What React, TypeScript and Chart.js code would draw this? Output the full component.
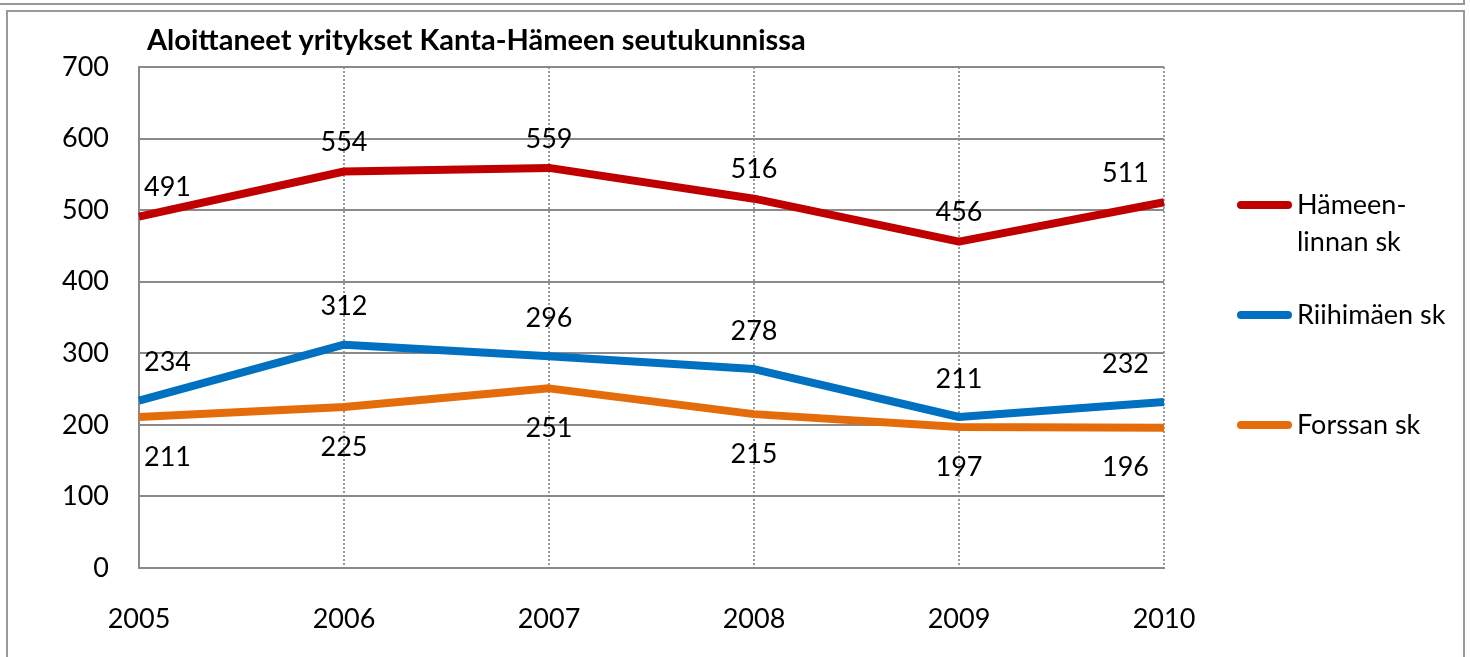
import React, { useEffect, useRef } from "react";
import { Chart, registerables } from "chart.js";

Chart.register(...registerables);

// ---- data ----
const years = ["2005", "2006", "2007", "2008", "2009", "2010"];
const hameenlinna = [491, 554, 559, 516, 456, 511];
const riihimaki = [234, 312, 296, 278, 211, 232];
const forssa = [211, 225, 251, 215, 197, 196];
const seriesNames = ["Hämeenlinnan sk", "Riihimäen sk", "Forssan sk"];
const legendTexts = [["Hämeen-", "linnan sk"], ["Riihimäen sk"], ["Forssan sk"]];
const yMin = 0;
const yMax = 700;
const yStep = 100;
const chartTitle = "Aloittaneet yritykset Kanta-Hämeen seutukunnissa";

// ---- styles ----
const FONT_FAMILY = "Lato, 'Noto Sans', sans-serif";
const FONT_SIZE = 27;
const COLORS = ["#C00000", "#0070C0", "#E46C0A"];
const LABEL_OFFSETS = [-29, -38, 40]; // vertical offset of value labels per series
const LEGEND_ROWS = [138, 248, 358]; // legend marker y relative to chart area top

const labelPlugin = {
  id: "valueLabels",
  afterDatasetsDraw(chart: any) {
    const ctx = chart.ctx;
    const { left, right } = chart.chartArea;
    ctx.save();
    ctx.font = `${FONT_SIZE}px ${FONT_FAMILY}`;
    ctx.fillStyle = "#000";
    ctx.textAlign = "center";
    ctx.textBaseline = "middle";
    chart.data.datasets.forEach((ds: any, i: number) => {
      const meta = chart.getDatasetMeta(i);
      meta.data.forEach((pt: any, j: number) => {
        const text = String(ds.data[j]);
        const w = ctx.measureText(text).width;
        let x = pt.x;
        x = Math.max(left + w / 2 + 5, Math.min(right - w / 2 - 15, x));
        ctx.fillText(text, x, pt.y + LABEL_OFFSETS[i]);
      });
    });
    ctx.restore();
  },
};

const decorPlugin = {
  id: "decor",
  afterDraw(chart: any) {
    const ctx = chart.ctx;
    const { right, top, left } = chart.chartArea;
    ctx.save();
    // title
    ctx.font = `bold 29px ${FONT_FAMILY}`;
    ctx.fillStyle = "#000";
    ctx.textAlign = "left";
    ctx.textBaseline = "alphabetic";
    ctx.fillText(chartTitle, left + 8, top - 17);
    // legend
    const lx = right + 73;
    ctx.font = `${FONT_SIZE}px ${FONT_FAMILY}`;
    ctx.textBaseline = "middle";
    chart.data.datasets.forEach((ds: any, i: number) => {
      const y = top + LEGEND_ROWS[i];
      ctx.strokeStyle = ds.borderColor;
      ctx.lineWidth = 8;
      ctx.lineCap = "round";
      ctx.beginPath();
      ctx.moveTo(lx + 4, y);
      ctx.lineTo(lx + 51, y);
      ctx.stroke();
      const lines = legendTexts[i];
      lines.forEach((t: string, k: number) => {
        ctx.fillText(t, lx + 60, y + k * 37);
      });
    });
    ctx.restore();
  },
};

export default function App() {
  const ref = useRef<HTMLCanvasElement | null>(null);

  useEffect(() => {
    if (!ref.current) return;
    const font = { family: FONT_FAMILY, size: FONT_SIZE };
    const chart = new Chart(ref.current, {
      type: "line",
      data: {
        labels: years,
        datasets: [hameenlinna, riihimaki, forssa].map((d, i) => ({
          label: seriesNames[i],
          data: d,
          borderColor: COLORS[i],
          backgroundColor: COLORS[i],
          borderWidth: 8,
          pointRadius: 0,
          tension: 0,
          borderCapStyle: "butt" as const,
          borderJoinStyle: "round" as const,
          fill: false,
        })),
      },
      options: {
        responsive: false,
        animation: false,
        layout: { padding: { left: 0, top: 67, right: 306, bottom: 0 } },
        plugins: {
          legend: { display: false },
          title: { display: false },
          tooltip: { enabled: false },
        },
        scales: {
          x: {
            type: "category",
            offset: false,
            grid: { color: "#9a9a9a", lineWidth: 2, drawTicks: false },
            border: { display: true, color: "#8a8a8a", width: 2, dash: [2, 2] },
            ticks: { font, color: "#000", padding: 35, maxRotation: 0, autoSkip: false },
            afterFit: (s: any) => {
              s.height = 89;
            },
          },
          y: {
            min: yMin,
            max: yMax,
            ticks: { stepSize: yStep, font, color: "#000", padding: 30 },
            grid: { color: "#8a8a8a", lineWidth: 2, drawTicks: false },
            border: { display: true, color: "#8a8a8a", width: 2 },
            afterFit: (s: any) => {
              s.width = 139;
            },
          },
        },
      },
      plugins: [labelPlugin, decorPlugin],
    });
    return () => chart.destroy();
  }, []);

  return (
    <div
      style={{
        position: "absolute",
        left: 0,
        top: 0,
        width: 1470,
        height: 657,
        overflow: "hidden",
        background: "#fff",
      }}
    >
      <div
        style={{
          position: "absolute",
          left: 0,
          top: -10,
          width: 1465,
          height: 15,
          boxSizing: "border-box",
          borderRight: "2px solid #999",
          borderBottom: "2px solid #999",
        }}
      />
      <div
        style={{
          position: "absolute",
          left: 6,
          top: 10,
          width: 1459,
          height: 700,
          boxSizing: "border-box",
          border: "2px solid #999",
        }}
      />
      <canvas
        ref={ref}
        width={1470}
        height={657}
        style={{ position: "absolute", left: 0, top: 0, display: "block" }}
      />
    </div>
  );
}
